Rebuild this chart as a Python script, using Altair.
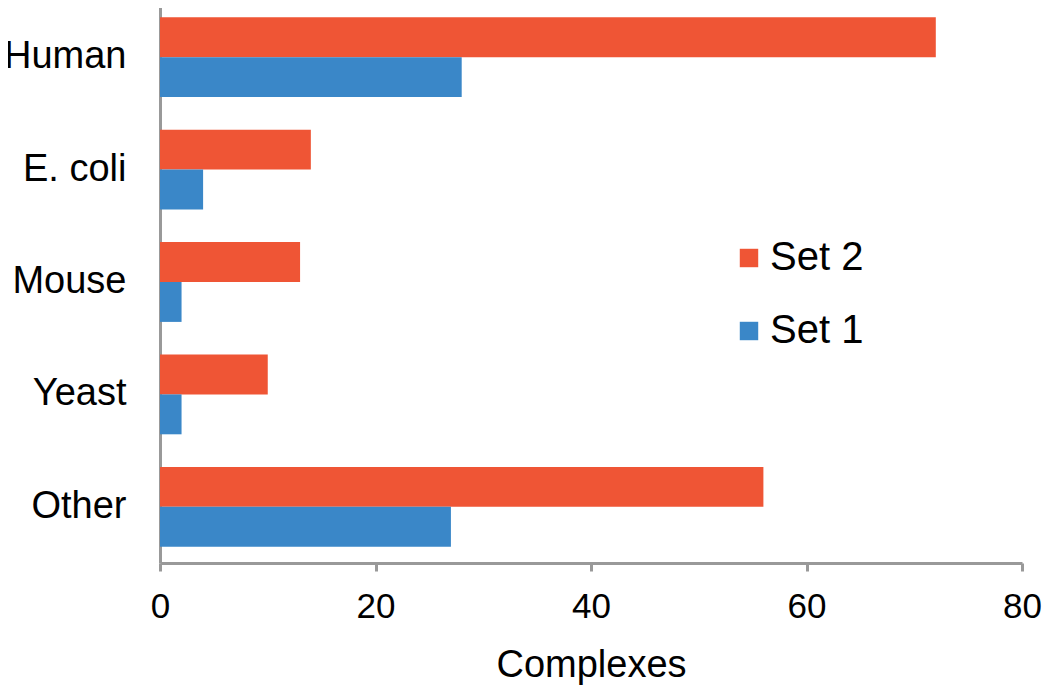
import altair as alt
import pandas as pd

categories = ["Human", "E. coli", "Mouse", "Yeast", "Other"]
set1 = [28, 4, 2, 2, 27]
set2 = [72, 14, 13, 10, 56]

rows = []
for c, a, b in zip(categories, set1, set2):
    rows.append({"organism": c, "set": "Set 2", "value": b})
    rows.append({"organism": c, "set": "Set 1", "value": a})
df = pd.DataFrame(rows)

FONT = "Liberation Sans"

chart = alt.Chart(df).mark_bar().encode(
    x=alt.X("value:Q", scale=alt.Scale(domain=[0, 80]),
            axis=alt.Axis(values=[0, 20, 40, 60, 80], title="Complexes", grid=False,
                          domainColor="#999999", domainWidth=3, tickColor="#999999",
                          tickWidth=3, tickSize=8, labelFontSize=35, labelFont=FONT,
                          labelColor="black", labelPadding=18, labelFlush=False,
                          titleFontSize=38, titleFont=FONT, titleFontWeight="normal",
                          titleColor="black", titlePadding=22)),
    y=alt.Y("organism:N", sort=categories,
            scale=alt.Scale(range=[-7, 555], paddingInner=0.29, paddingOuter=0.145),
            axis=alt.Axis(title=None, ticks=False, domainColor="#999999", domainWidth=3,
                          labelFontSize=38, labelFont=FONT, labelColor="black",
                          labelPadding=34)),
    yOffset=alt.YOffset("set:N", sort=["Set 2", "Set 1"]),
    color=alt.Color("set:N", scale=alt.Scale(domain=["Set 2", "Set 1"],
                                             range=["#EF5535", "#3A87C8"]),
                    legend=alt.Legend(title=None, orient="none", legendX=569, legendY=230,
                                      symbolType="square", symbolSize=340,
                                      symbolStrokeWidth=0, labelFontSize=40,
                                      labelFont=FONT, labelColor="black",
                                      rowPadding=33, padding=0, labelOffset=1)),
).properties(
    width=862, height=555,
    autosize=alt.AutoSizeParams(type="none"),
    padding={"left": 152, "top": 0, "right": 20, "bottom": 122},
).configure_view(stroke=None)

chart.save("out.html", embed_options={"renderer": "svg", "actions": False})
